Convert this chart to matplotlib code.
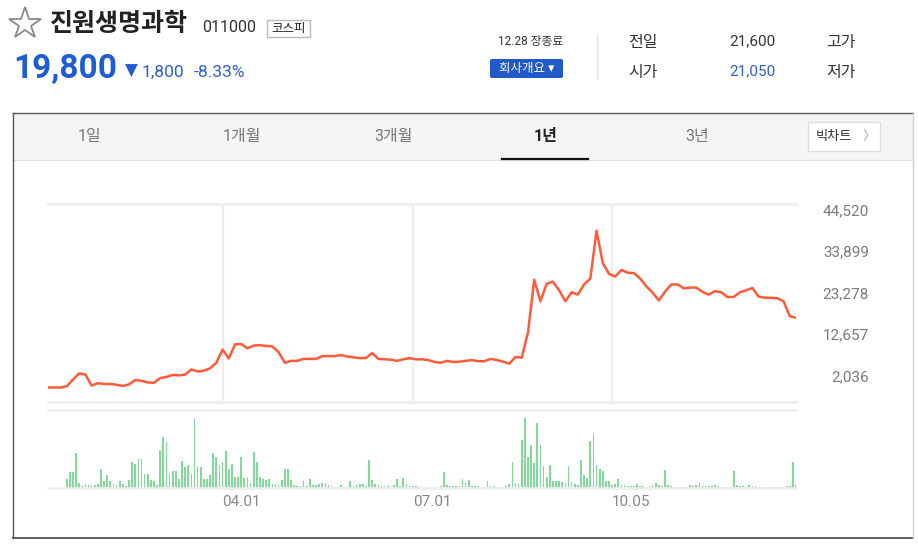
import numpy as np
import matplotlib
matplotlib.use('Agg')
import matplotlib.pyplot as plt
from matplotlib.patches import Rectangle, FancyBboxPatch
from matplotlib.transforms import ScaledTranslation

plt.rcParams['font.family'] = ['Roboto', 'Noto Sans CJK KR', 'DejaVu Sans']

# closing price (won), one value every 2nd trading day
close = [2000, 2000, 2000, 2300, 4000, 5600, 5300, 2500, 3100, 2900,
         2900, 2700, 2400, 2800, 3900, 3700, 3300, 3200, 4400, 4700,
         5200, 5100, 5300, 6600, 6100, 6300, 6900, 8300, 11700, 9400,
         13000, 13100, 12000, 12700, 12800, 12600, 12500, 11000, 8300, 8800,
         8800, 9300, 9300, 9300, 10000, 10000, 10000, 10300, 9900, 9700,
         9500, 9500, 10800, 9300, 9200, 9100, 8800, 9200, 9500, 9200,
         9200, 9000, 8500, 8300, 8800, 8500, 8600, 8800, 9000, 8700,
         8700, 9300, 9000, 8600, 8100, 9800, 9600, 16000, 29500, 24000,
         28500, 29000, 26800, 24000, 26300, 25700, 28300, 29800, 42000, 33800,
         31000, 30300, 32000, 31300, 31200, 29800, 27800, 26200, 24200, 26500,
         28300, 28300, 27300, 27500, 27500, 26400, 25700, 26600, 26300, 25100,
         25100, 26300, 26800, 27400, 25200, 24900, 24900, 24800, 24000, 20200, 19800]
close_x = np.arange(0, 241, 2)

# daily volume (x100k shares), one bar per trading day
volume = [0, 0, 0, 0, 0, 0,
          9, 15.7, 15.7, 35, 5, 2, 3.7, 3.3, 3.3, 3.3,
          3.7, 19, 6.7, 13.3, 6.7, 4, 3.3, 6.7, 4, 1.7,
          8.3, 25.7, 24.3, 29, 29, 14.3, 14.3, 8.3, 7.3, 3.3,
          37.7, 51, 46, 14.3, 16.7, 16.7, 9, 27.3, 20.7, 22.7,
          14, 69.3, 20.7, 20.7, 9.3, 9.3, 13.3, 35, 31, 23.3,
          26, 36.7, 19, 24, 11, 11, 31, 10, 11, 5,
          35.7, 26, 11, 9.3, 8.3, 9.3, 4.3, 4.3, 3.3, 8.3,
          19, 19, 7.7, 3.3, 1.7, 1.7, 6.7, 1.7, 9, 2.7,
          3.3, 4.3, 5, 5, 3.3, 1.7,
          1, 1,
          2.7, 1, 1, 7, 2, 2.7, 3.7, 3.7, 1.7, 28.3,
          7.7, 3.7, 2.7, 2, 1.7, 1.7, 1, 2.7, 8.7, 2,
          10.3, 3.7, 2, 1.7, 1.7, 1, 0.5, 0.5, 0.5, 0.5,
          0.5, 1, 2, 15.7, 2.7, 2, 1.7, 2, 1.7, 8.7,
          5, 8.3, 2, 1.7, 1.7, 1, 1, 7.3, 1.7, 1.7,
          1, 1, 0.5, 1.7, 3.7, 26, 5, 4.3, 48.3, 70.3,
          31, 42.7, 25, 65, 43.3, 21.7, 11, 22.7, 7.3, 6.7,
          6.7, 6, 5, 21.7, 5.7, 3.7, 2.7, 28.3, 12.7, 10.3,
          47, 54.3, 22.7, 19.3, 16.7, 7, 7, 2.7, 3.7, 8.7,
          3.3, 2.7, 2, 2, 2, 3.7, 2, 2, 1.3, 2,
          2.7, 5, 2.7, 2, 18.3, 3.3, 1.7, 1.3, 1.3, 1,
          1.3, 1.3, 2.7, 2, 3, 5, 2, 2, 1.7, 2.3,
          3.3, 1.7, 1.3, 1, 1, 1, 16.7, 3, 2.3, 2,
          1.3, 3.3, 2.3, 1.7, 1.3, 1, 1, 1, 1.3, 1,
          1, 1, 1.3, 1.7, 2.3, 25.7, 3.3]
vol_x = np.arange(len(volume))

date_ticks = [56, 117, 181]
date_labels = ['04.01', '07.01', '10.05']
price_ticks = [2036, 12657, 23278, 33899, 44520]

tabs = ['1일', '1개월', '3개월', '1년', '3년']

fig = plt.figure(figsize=(9.18, 5.45), dpi=100)

# page background / header drawn in pixel coords
bg = fig.add_axes([0, 0, 1, 1], zorder=0)
bg.set_xlim(0, 918)
bg.set_ylim(545, 0)
bg.axis('off')

blue = '#1e5dd3'
bg.plot(25, 24, marker='*', ms=24, mfc='none', mec='#8a8a8a', mew=1.3)
bg.text(50, 24, '진원생명과학', fontsize=18, fontweight='bold', color='#222222', va='center')
bg.text(202, 28, '011000', fontsize=11.5, color='#333333', va='center')
bg.add_patch(Rectangle((267, 20), 43, 17, fc='white', ec='#bbbbbb', lw=1))
bg.text(288.5, 28.5, '코스피', fontsize=9, color='#222222', ha='center', va='center')

bg.text(13, 78, '19,800', fontsize=24, fontweight='bold', color=blue, va='baseline')
bg.text(125, 76, '▼', fontsize=12, color=blue, va='baseline', family='DejaVu Sans')
bg.text(142, 77, '1,800', fontsize=12.5, color='#2c5fd6', va='baseline')
bg.text(194, 77, '-8.33%', fontsize=12.5, color='#2c5fd6', va='baseline')

bg.text(531, 41, '12.28 장종료', fontsize=8.5, color='#333333', ha='center', va='center')
bg.add_patch(FancyBboxPatch((490, 59), 73, 19, boxstyle='round,pad=0,rounding_size=2',
                            fc='#2259c9', ec='none'))
bg.text(526.5, 68.5, '회사개요 ▾', fontsize=9, color='white', ha='center', va='center')
bg.plot([597, 597], [34, 79], color='#e2e2e2', lw=1)

bg.text(628, 42, '전일', fontsize=11.5, color='#333333', va='center')
bg.text(776, 41, '21,600', fontsize=11, color='#333333', ha='right', va='center')
bg.text(826, 42, '고가', fontsize=11.5, color='#333333', va='center')
bg.text(628, 72, '시가', fontsize=11.5, color='#333333', va='center')
bg.text(776, 71, '21,050', fontsize=11, color='#2c5fd6', ha='right', va='center')
bg.text(826, 72, '저가', fontsize=11.5, color='#333333', va='center')

# chart box and period tabs
bg.add_patch(Rectangle((13, 112.5), 900, 47, fc='#f5f5f5', ec='none'))
bg.plot([13, 913], [159.5, 159.5], color='#e3e3e3', lw=1)
bg.plot([13, 913], [112.5, 112.5], color='#555555', lw=1)
bg.plot([13, 13], [112.5, 538], color='#555555', lw=1)
bg.plot([13, 913], [538, 538], color='#444444', lw=1.2)
bg.plot([913, 913], [112.5, 538], color='#d0d0d0', lw=1)
for i, t in enumerate(tabs):
    sel = t == '1년'
    bg.text(90 + 151.8 * i, 137, t, fontsize=11.5, ha='center', va='center',
            color='#222222' if sel else '#777777', fontweight='bold' if sel else 'normal')
bg.plot([502, 588], [159, 159], color='#111111', lw=1.6)
bg.add_patch(Rectangle((808, 122), 72, 29, fc='white', ec='#dddddd', lw=1))
bg.text(834, 136.5, '빅차트', fontsize=9.5, color='#333333', ha='center', va='center')
bg.text(869, 136.5, '〉', fontsize=9.5, color='#aaaaaa', ha='center', va='center')

# price panel
ax = fig.add_axes([48 / 918, 143 / 545, 748 / 918, 198 / 545], zorder=2)
ax.set_facecolor('none')
ax.plot(close_x, close, color='#ff5b3a', lw=1.8, solid_joinstyle='round', zorder=3)
ax.set_xlim(0, 240)
ax.set_ylim(-1700, 48830)
for side in ['left', 'right']:
    ax.spines[side].set_visible(False)
for side in ['top', 'bottom']:
    ax.spines[side].set_color('#efefef')
    ax.spines[side].set_linewidth(2.2)
ax.set_xticks(date_ticks)
ax.set_yticks([])
ax.grid(axis='x', color='#eeeeee', lw=1.6)
ax.tick_params(length=0, labelbottom=False)
up = ScaledTranslation(0, 0.10, fig.dpi_scale_trans)
for v in price_ticks:
    ax.text(1.0976, v, f'{v:,}', transform=ax.get_yaxis_transform() + up,
            ha='right', va='center', fontsize=11, color='#7a7a7a')

# volume panel
vax = fig.add_axes([48 / 918, 57 / 545, 748 / 918, 78 / 545], zorder=2)
vax.set_facecolor('none')
vax.bar(vol_x, volume, width=0.55, color='#7fdb97', zorder=2)
vax.set_xlim(0, 240)
vax.set_ylim(0, 78)
for side in ['left', 'right']:
    vax.spines[side].set_visible(False)
vax.spines['top'].set_color('#f0f0f0')
vax.spines['top'].set_linewidth(2)
vax.spines['bottom'].set_color('#eeeeee')
vax.spines['bottom'].set_linewidth(2)
vax.set_yticks([])
vax.set_xticks(date_ticks, date_labels)
vax.tick_params(length=0, pad=5, labelsize=11, labelcolor='#888888')
for lab in vax.get_xticklabels():
    lab.set_horizontalalignment('left')

fig.savefig('out.png', dpi=100)
